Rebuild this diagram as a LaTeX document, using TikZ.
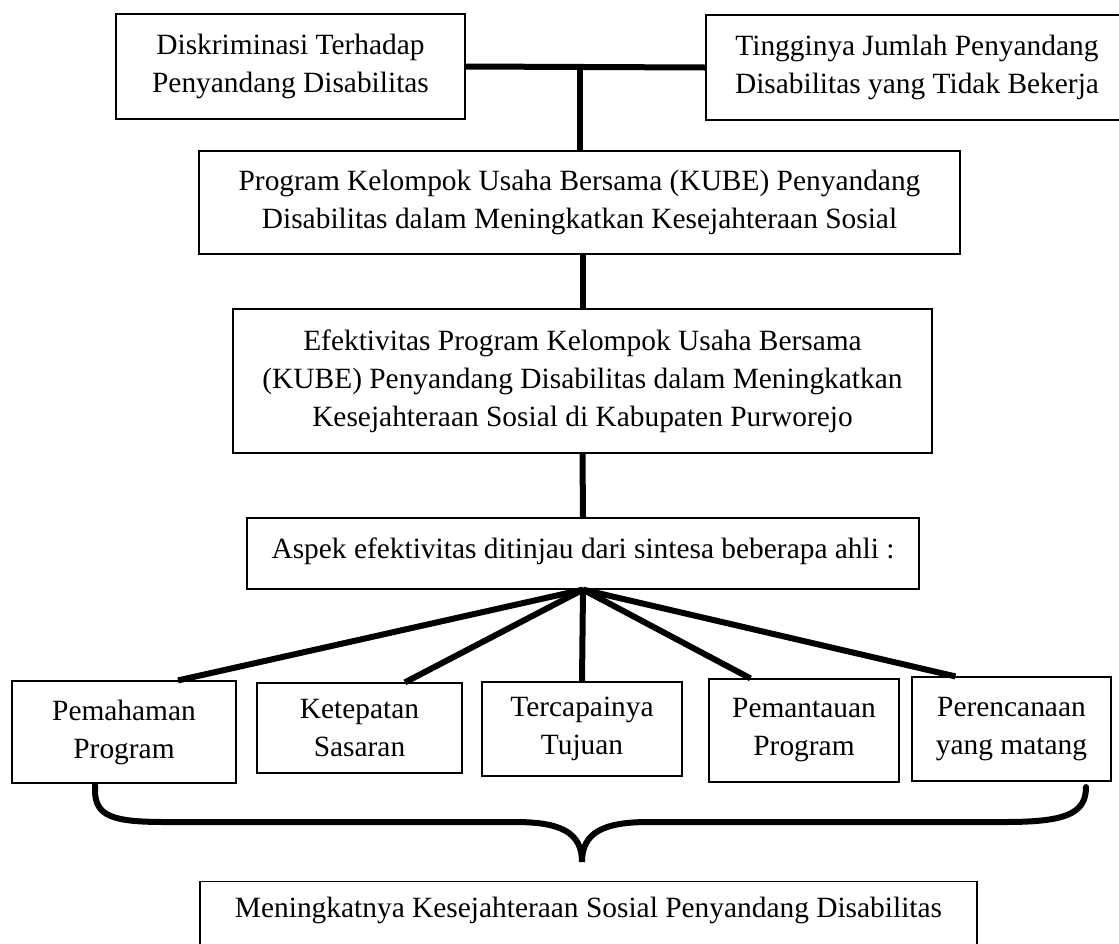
\documentclass[tikz,border=0pt]{standalone}
\usepackage{fontspec}
\setmainfont{Liberation Serif}
\usetikzlibrary{calc}

\begin{document}
\begin{tikzpicture}[x=0.5pt, y=-0.5pt,
  box/.style={draw, line width=0.6pt, align=center, inner sep=0pt, font=\fontsize{14.7}{19}\selectfont},
  link/.style={line width=3pt}]
  \useasboundingbox (0,0) rectangle (1119,943);
  \node[box, minimum width=174.5pt, minimum height=52.5pt] (dis) at (290.5,66.5) {Diskriminasi Terhadap\\Penyandang Disabilitas};
  \node[box, minimum width=211pt, minimum height=52.5pt] (ting) at (917,67.5) {Tingginya Jumlah Penyandang\\Disabilitas yang Tidak Bekerja};
  \node[box, minimum width=380.5pt, minimum height=51.5pt] (prog) at (579.5,202.5) {Program Kelompok Usaha Bersama (KUBE) Penyandang\\Disabilitas dalam Meningkatkan Kesejahteraan Sosial};
  \node[box, minimum width=349.5pt, minimum height=72pt] (efek) at (582.5,381) {Efektivitas Program Kelompok Usaha Bersama\\(KUBE) Penyandang Disabilitas dalam Meningkatkan\\Kesejahteraan Sosial di Kabupaten Purworejo};
  \node[box, minimum width=336pt, minimum height=35.5pt, text depth=5pt] (aspek) at (583,553.5) {Aspek efektivitas ditinjau dari sintesa beberapa ahli :};
  \node[box, minimum width=112pt, minimum height=51pt] (paham) at (124,732) {Pemahaman\\Program};
  \node[box, minimum width=102.5pt, minimum height=45pt] (tepat) at (359.5,728) {Ketepatan\\Sasaran};
  \node[box, minimum width=100pt, minimum height=47pt] (capai) at (582,729) {Tercapainya\\Tujuan};
  \node[box, minimum width=95pt, minimum height=51.5pt] (pantau) at (804,730.5) {Pemantauan\\Program};
  \node[box, minimum width=99.5pt, minimum height=52pt] (rencana) at (1011.5,729) {Perencanaan\\yang matang};
  \node[box, anchor=north, minimum width=388.5pt, text height=10.5pt, text depth=40pt, inner ysep=7.5pt] (hasil) at (588.5,881) {Meningkatnya Kesejahteraan Sosial Penyandang Disabilitas};

  \draw[link] (dis.east) -- (ting.west);
  \draw[link] (prog.north |- dis.east) -- (prog.north);
  \draw[link] (prog.south -| efek.north) -- (efek.north);
  \draw[link] (efek.south) -- (aspek.north);
  \foreach \n/\f in {paham/.74, tepat/.72, capai/.5, pantau/.22, rencana/.22}
    \draw[link] (aspek.south) -- ($(\n.north west)!\f!(\n.north east)$);

  % kurung kurawal
  \draw[link, line cap=round] (95,785) -- (95,790) .. controls (95,816) and (112,822) .. (165,822)
    -- (515,822) .. controls (560,822) and (582,832) .. (582,862)
    .. controls (582,832) and (604,822) .. (649,822) -- (1005,822)
    .. controls (1065,822) and (1086,814) .. (1086,787);
\end{tikzpicture}
\end{document}
